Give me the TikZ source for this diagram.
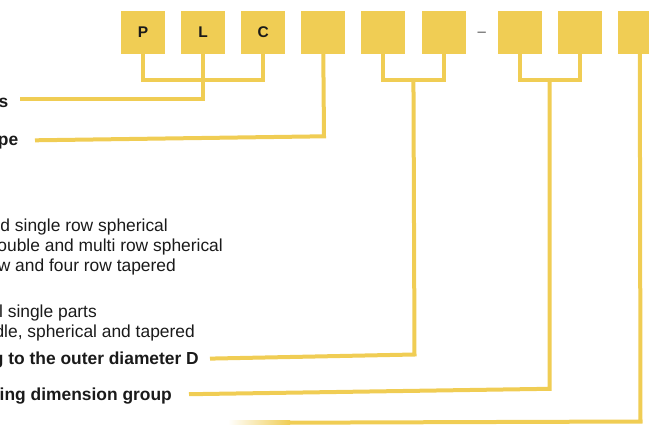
\documentclass[tikz,border=0pt]{standalone}
\usepackage{fontspec}
\setmainfont{Liberation Sans}
\usetikzlibrary{positioning, calc}

\definecolor{codeyellow}{RGB}{240,205,84}
\definecolor{textdark}{RGB}{26,26,26}
\definecolor{dashgray}{RGB}{80,80,80}

\begin{document}
\begin{tikzpicture}[
    x=1pt,
    y=-1pt,
    node distance=15.7pt,
    slot/.style={rectangle, fill=codeyellow, minimum width=44pt, minimum height=43pt, inner sep=0pt,
        text=textdark, font=\bfseries\fontsize{15.5}{15.5}\selectfont},
    lead/.style={draw=codeyellow, line width=4pt, line join=miter},
    desc/.style={anchor=base east, inner sep=0pt, text=textdark, font=\fontsize{17.4}{20}\selectfont},
    head/.style={desc, font=\bfseries\fontsize{17.4}{20}\selectfont},
    dashsign/.style={inner sep=0pt, text=dashgray, font=\fontsize{15}{15}\selectfont}
]
    \useasboundingbox (0,0) rectangle (649,424);

    \node[slot]                         (P)     at (143,32.5)   {P};
    \node[slot, right=of P]             (L)                     {L};
    \node[slot, right=of L]             (C)                     {C};
    \node[slot, right=of C]             (Type)                  {};
    \node[slot, right=of Type]          (DiamA)                 {};
    \node[slot, right=of DiamA]         (DiamB)                 {};
    \node[dashsign] (Dash) at ([xshift=16pt, yshift=-1.8pt]DiamB.east) {–};
    \node[slot, right=31.7pt of DiamB]  (DimA)                  {};
    \node[slot, right=of DimA]          (DimB)                  {};
    \node[slot, right=of DimB]          (Last)                  {};

    \node[head] (tSeries)   at (8.5,107.5)  {s};
    \node[head] (tType)     at (18.5,145.5) {pe};
    \node[desc] (tRowA)     at (168,231)    {nd single row spherical};
    \node[desc] (tRowB)     at (223,251)    {ouble and multi row spherical};
    \node[desc] (tRowC)     at (176,271)    {w and four row tapered};
    \node[desc] (tPartA)    at (97,317)     {l single parts};
    \node[desc] (tPartB)    at (195,337)    {dle, spherical and tapered};
    \node[head] (tDiam)     at (199,364)    {g to the outer diameter D};
    \node[head] (tDim)      at (172,400)    {ing dimension group};

    \coordinate (bar)       at (0,79.5);
    \coordinate (mDiam)     at ($(DiamA.south)!.5!(DiamB.south)$);
    \coordinate (mDim)      at ($(DimA.south)!.5!(DimB.south)$);
    \coordinate (eSeries)   at (20,98.7);
    \coordinate (kType)     at (324,136.3);
    \coordinate (eType)     at (35,140.3);
    \coordinate (kDiam)     at (414.5,354.5);
    \coordinate (eDiam)     at (210,358.6);
    \coordinate (kDim)      at (549.5,388.8);
    \coordinate (eDim)      at (189,394.2);
    \coordinate (kLast)     at (640.5,421.5);
    \coordinate (eLast)     at (290,422.7);

    \draw[lead] (P.south) |- (bar -| C.south) -- (C.south);
    \draw[lead] (L.south) |- (eSeries);
    \draw[lead] (Type.south) -- (kType) -- (eType);
    \draw[lead] (DiamA.south) |- (bar -| DiamB.south) -- (DiamB.south);
    \draw[lead] (mDiam |- bar) -- (kDiam) -- (eDiam);
    \draw[lead] (DimA.south) |- (bar -| DimB.south) -- (DimB.south);
    \draw[lead] (mDim |- bar) -- (kDim) -- (eDim);
    \draw[lead] (Last.south) -- (kLast) -- (eLast);
    \shade[left color=white, right color=codeyellow] (228,420.7) rectangle (290,424.7);
\end{tikzpicture}
\end{document}
